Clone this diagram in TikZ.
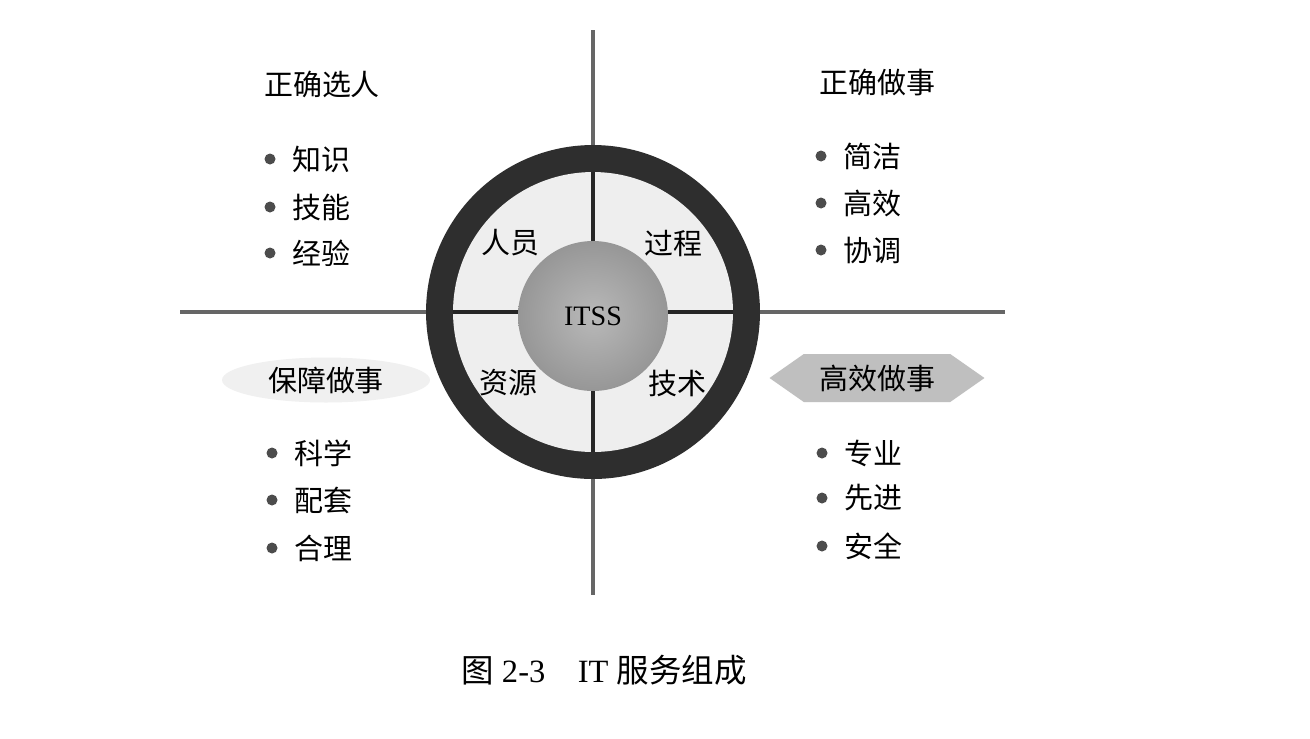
\documentclass[tikz,border=0pt]{standalone}
\usepackage{fontspec}
\setmainfont{Liberation Serif}
\newfontfamily\cjk{Noto Sans CJK SC}
\usetikzlibrary{shapes.geometric,shapes.symbols}

\begin{document}
\begin{tikzpicture}[
  x=0.02cm,y=-0.02cm,
  txt/.style={font=\cjk\fontsize{16.5}{19}\selectfont,inner sep=1pt},
  dot/.style={circle,fill=black!70,inner sep=0pt,minimum size=0.22cm},
  item/.style={txt,anchor=west},
  axis/.style={draw=black!60,line width=2.3pt},
  inaxis/.style={draw=black!85,line width=2.6pt},
]
  \useasboundingbox[fill=white] (0,0) rectangle (1310,738);

  % cross
  \coordinate (vtop) at (593,30);
  \coordinate (vbot) at (593,595);
  \coordinate (hl)   at (180,312);
  \coordinate (hr)   at (1005,312);
  \draw[axis] (vtop) -- (vbot);
  \draw[axis] (hl) -- (hr);

  % rings and core
  \node[circle,fill=black!82,minimum size=6.68cm,inner sep=0pt] (ring) at (593,312) {};
  \node[circle,fill=gray!13,minimum size=5.6cm,inner sep=0pt]   (disk) at (593,312) {};
  \draw[inaxis] (disk.north) -- (disk.south);
  \draw[inaxis] (disk.west) -- (disk.east);
  \node[circle,inner color=gray!55,outer color=gray!82,minimum size=3cm,inner sep=0pt,
        font=\fontsize{16}{19}\selectfont] (core) at (593,316) {ITSS};

  \node[txt] (people)  at (510,243) {人员};
  \node[txt] (process) at (673,243) {过程};
  \node[txt] (res)     at (508,383) {资源};
  \node[txt] (tech)    at (677,383) {技术};

  % top left
  \node[txt] (choose) at (322,84) {正确选人};
  \node[item] (know)  at (290,159) {知识};
  \node[item] (skill) at (290,207) {技能};
  \node[item] (exp)   at (290,253) {经验};

  % top right
  \node[txt] (right) at (877,82) {正确做事};
  \node[item] (simple) at (841,156) {简洁};
  \node[item] (effic)  at (841,203) {高效};
  \node[item] (coord)  at (841,250) {协调};

  % bottom left
  \node[txt,ellipse,fill=gray!12,minimum width=4.16cm,minimum height=0.9cm] (guard) at (326,380) {保障做事};
  \node[item] (sci)   at (292,453) {科学};
  \node[item] (match) at (292,500) {配套};
  \node[item] (fair)  at (292,548) {合理};

  % bottom right
  \node[txt,signal,signal to=west and east,signal pointer angle=70,fill=gray!50,
        minimum width=4.3cm,minimum height=0.96cm] (fast) at (877,378) {高效做事};
  \node[item] (pro)  at (842,453) {专业};
  \node[item] (adv)  at (842,498) {先进};
  \node[item] (safe) at (842,546) {安全};

  % bullets
  \foreach \n in {know,skill,exp,simple,effic,coord,sci,match,fair,pro,adv,safe}
    \node[dot] (\n-dot) at ([xshift=-0.4cm]\n.west) {};

  % caption
  \node[font=\fontsize{18.5}{22}\selectfont] (cap) at (604,670)
    {{\cjk 图} 2-3\quad IT {\cjk 服务组成}};
\end{tikzpicture}
\end{document}
